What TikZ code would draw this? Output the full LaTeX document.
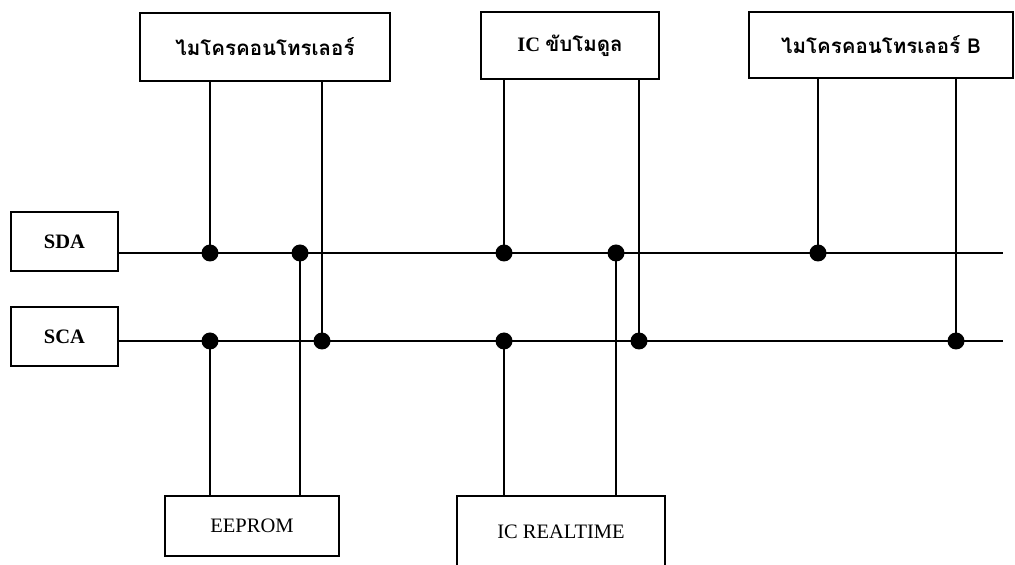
\documentclass[tikz,border=0pt]{standalone}
\usepackage{fontspec}
\setmainfont{Liberation Serif}
\newfontfamily\thaifont[Script=Thai]{Loma}
\usetikzlibrary{positioning}

\begin{document}
\begin{tikzpicture}[x=1pt,y=1pt]
    \tikzstyle{every node}=[fill=none,rectangle,draw,line width=2.2,inner sep=0]
    \tikzstyle{chip}=[font=\fontsize{20.5}{24}\selectfont\bfseries]
    \tikzstyle{slave}=[font=\fontsize{20.5}{24}\selectfont]
    \tikzstyle{dot}=[circle,fill=black,draw=none,minimum size=17]
    \tikzstyle{wire}=[line width=2.8]
    \useasboundingbox (0,0) rectangle (1015,565);
    {
        \node[chip,minimum width=250,minimum height=68] (mcu) at (265,518) {\thaifont ไมโครคอนโทรเลอร์};
        \node[chip,minimum width=178,minimum height=67] (drv) at (570,519.5) {IC {\thaifont ขับโมดูล}};
        \node[chip,minimum width=264,minimum height=66] (mcub) at (881,520) {\thaifont ไมโครคอนโทรเลอร์ B};
        \node[chip,minimum width=107,minimum height=59] (sda) at (64.5,323.5) {SDA};
        \node[chip,minimum width=107,minimum height=59] (sca) at (64.5,228.5) {SCA};
        \node[slave,minimum width=174,minimum height=60] (eeprom) at (252,39) {EEPROM};
        \node[slave,minimum width=208,minimum height=100,anchor=north,text height=42,text depth=58] (rtc) at (561,70) {IC REALTIME};

        \coordinate (sdaend) at (1003,312);
        \coordinate (scaend) at (1003,224);
        \draw[wire] (sda.east |- sdaend) -- (sdaend);
        \draw[wire] (sca.east |- scaend) -- (scaend);

        \node[dot] (d1) at (210,312) {};
        \node[dot] (d2) at (300,312) {};
        \node[dot] (d3) at (504,312) {};
        \node[dot] (d4) at (616,312) {};
        \node[dot] (d5) at (818,312) {};
        \node[dot] (c1) at (210,224) {};
        \node[dot] (c2) at (322,224) {};
        \node[dot] (c3) at (504,224) {};
        \node[dot] (c4) at (639,224) {};
        \node[dot] (c5) at (956,224) {};

        \draw[wire] (d1.center) -- (d1 |- mcu.south);
        \draw[wire] (c2.center) -- (c2 |- mcu.south);
        \draw[wire] (c1.center) -- (c1 |- eeprom.north);
        \draw[wire] (d2.center) -- (d2 |- eeprom.north);
        \draw[wire] (d3.center) -- (d3 |- drv.south);
        \draw[wire] (c4.center) -- (c4 |- drv.south);
        \draw[wire] (c3.center) -- (c3 |- rtc.north);
        \draw[wire] (d4.center) -- (d4 |- rtc.north);
        \draw[wire] (d5.center) -- (d5 |- mcub.south);
        \draw[wire] (c5.center) -- (c5 |- mcub.south);
    }
\end{tikzpicture}
\end{document}
